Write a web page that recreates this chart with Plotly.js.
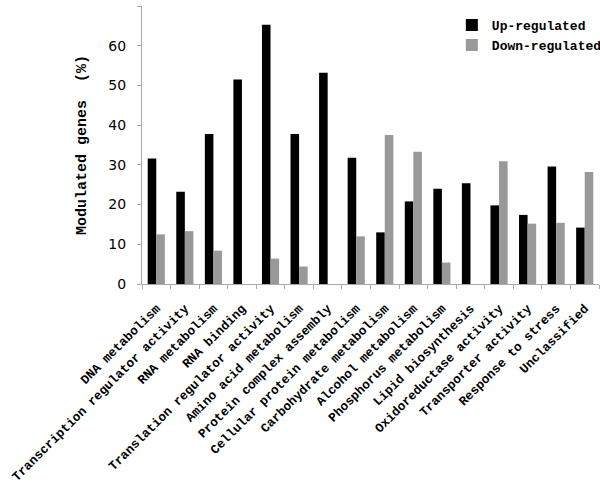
<!DOCTYPE html>
<html>
<head>
<meta charset="utf-8">
<script src="https://cdn.plot.ly/plotly-3.0.1.min.js"></script>
<style>html,body{margin:0;padding:0;background:#fff;}#chart{width:600px;height:486px;}</style>
</head>
<body>
<div id="chart"></div>
<script>
const categories = [
  "DNA metabolism",
  "Transcription regulator activity",
  "RNA metabolism",
  "RNA binding",
  "Translation regulator activity",
  "Amino acid metabolism",
  "Protein complex assembly",
  "Cellular protein metabolism",
  "Carbohydrate metabolism",
  "Alcohol metabolism",
  "Phosphorus metabolism",
  "Lipid biosynthesis",
  "Oxidoreductase activity",
  "Transporter activity",
  "Response to stress",
  "Unclassified"
];
const upRegulated = [31.6, 23.2, 37.8, 51.5, 65.3, 37.8, 53.2, 31.8, 13.0, 20.8, 24.0, 25.4, 19.8, 17.4, 29.6, 14.2];
const downRegulated = [12.5, 13.3, 8.4, 0, 6.4, 4.4, 0, 12.0, 37.5, 33.3, 5.4, 0, 30.9, 15.2, 15.4, 28.2];
const yTicks = [0, 10, 20, 30, 40, 50, 60, 70];

const mono = "Courier New, Liberation Mono, monospace";

const data = [
  {type: "bar", name: "Up-regulated", x: categories, y: upRegulated,
   marker: {color: "#000000", line: {width: 0}}},
  {type: "bar", name: "Down-regulated", x: categories, y: downRegulated,
   marker: {color: "#999999", line: {width: 0}}}
];

const layout = {
  width: 600, height: 486,
  margin: {l: 142, r: 1, t: 6, b: 202, autoexpand: false},
  paper_bgcolor: "#ffffff", plot_bgcolor: "#ffffff",
  barmode: "group", bargap: 0.4, bargroupgap: 0,
  showlegend: true,
  legend: {x: 0.678, y: 0.985, xanchor: "left", yanchor: "top",
    bgcolor: "rgba(0,0,0,0)", tracegroupgap: 0, itemwidth: 30,
    font: {family: mono, size: 13, color: "#000", weight: "bold"}},
  xaxis: {
    type: "category", tickangle: -45, tickson: "boundaries", automargin: false,
    ticks: "outside", ticklen: 4, tickcolor: "#aaaaaa",
    showline: true, linecolor: "#aaaaaa", linewidth: 1,
    showgrid: false, zeroline: false,
    ticklabelstandoff: 11,
    tickfont: {family: mono, size: 12.7, color: "#000", weight: "bold"}
  },
  yaxis: {
    range: [0, 70], tickvals: yTicks, ticktext: yTicks.map(String), automargin: false,
    ticks: "outside", ticklen: 4, tickcolor: "#aaaaaa",
    showline: true, linecolor: "#aaaaaa", linewidth: 1,
    showgrid: false, zeroline: false,
    ticklabelstandoff: 8,
    tickfont: {family: "DejaVu Sans, Verdana, sans-serif", size: 14, color: "#000"},
    title: {text: "Modulated genes\u00a0\u00a0(%)", standoff: 18,
      font: {family: mono, size: 15, color: "#000", weight: "bold"}}
  }
};

Plotly.newPlot("chart", data, layout, {displayModeBar: false, staticPlot: true});
</script>
</body>
</html>
